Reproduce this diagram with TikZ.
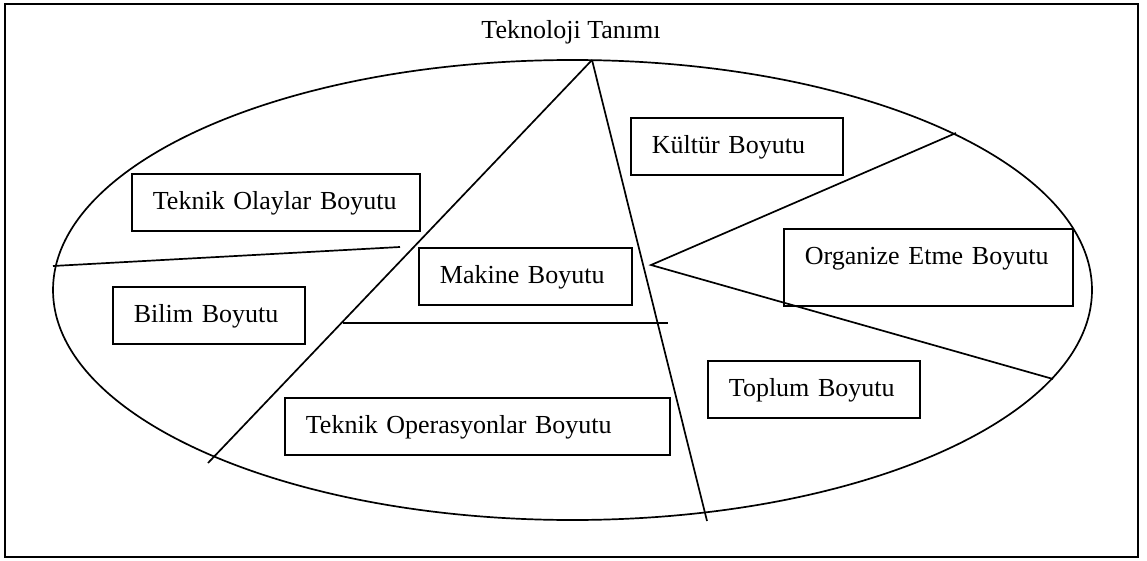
\documentclass[tikz,border=0pt]{standalone}
\usepackage{fontspec}
\setmainfont{Liberation Serif}
\usepackage{tikz}
\usetikzlibrary{positioning}

\begin{document}
\begin{tikzpicture}[
  x=1pt, y=-1pt, font=\fontsize{26}{30}\selectfont,
  dimbox/.style={draw, line width=1.8pt, anchor=north west, inner xsep=21pt, inner ysep=15.5pt, text height=20pt, text depth=6pt, align=left},
  cut/.style={line width=1.7pt}
]
  \useasboundingbox (0,0) rectangle (1147,561);
  \draw[line width=2.6pt] (5,4) rectangle (1138,557);
  \node[anchor=base] (title) at (571,39) {Teknoloji Tanımı};
  \draw[cut] (572.5,290) ellipse [x radius=519.5pt, y radius=230pt];

  \coordinate (apex) at (592,60);
  \coordinate (lowL) at (208,463);
  \coordinate (lowR) at (707,521);
  \coordinate (hub) at (651,265);
  \draw[cut] (apex) -- (lowL);
  \draw[cut] (apex) -- (lowR);
  \draw[cut] (53,266) -- (400,247);
  \draw[cut] (343,323) -- (668,323);
  \draw[cut] (956,133) -- (hub) -- (1053,379);

  \node[dimbox, text width=246pt] (olay) at (131,173) {Teknik Olaylar Boyutu};
  \node[dimbox, text width=150pt] (bilim) at (112,286) {Bilim Boyutu};
  \node[dimbox, text width=171pt] (makine) at (418,247) {Makine Boyutu};
  \node[dimbox, text width=170pt] (kultur) at (630,117) {Kültür Boyutu};
  \node[dimbox, text width=247pt, text depth=26pt] (organize) at (783,228) {Organize Etme Boyutu};
  \node[dimbox, text width=170pt] (toplum) at (707,360) {Toplum Boyutu};
  \node[dimbox, text width=343pt] (operasyon) at (284,397) {Teknik Operasyonlar Boyutu};
\end{tikzpicture}
\end{document}
